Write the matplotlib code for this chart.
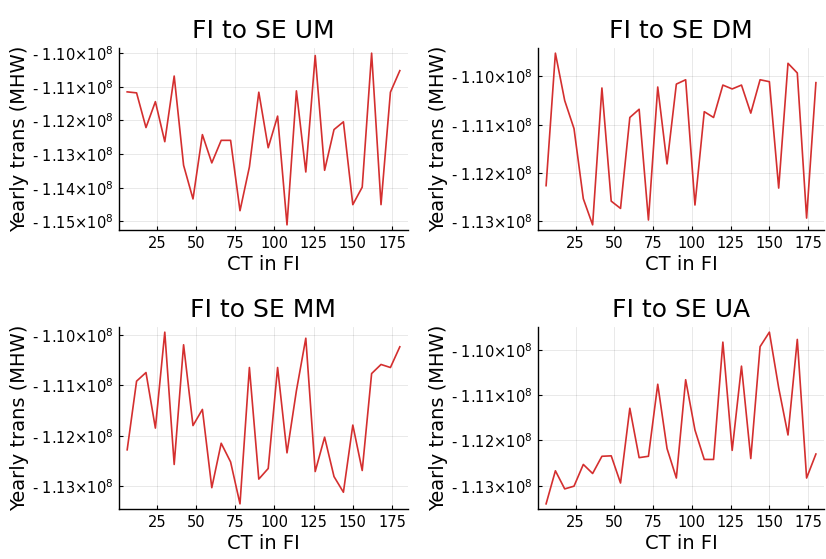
import numpy as np
import matplotlib
matplotlib.use("Agg")
import matplotlib.pyplot as plt
from matplotlib.ticker import MultipleLocator, FuncFormatter

# CT in FI (x axis), same for all panels
ct = np.arange(6, 181, 6)

# yearly transmission, in units of 1e8 MHW (negative)
um = [-1.1115, -1.1118, -1.1221, -1.1144, -1.1263, -1.1068, -1.1333, -1.1433, -1.1242, -1.1326,
      -1.1259, -1.1259, -1.1468, -1.1338, -1.1116, -1.1281, -1.1187, -1.1510, -1.1112, -1.1353,
      -1.1007, -1.1348, -1.1227, -1.1204, -1.1450, -1.1398, -1.1000, -1.1450, -1.1116, -1.1052]
dm = [-1.1226, -1.0952, -1.1050, -1.1108, -1.1253, -1.1307, -1.1024, -1.1258, -1.1273, -1.1085,
      -1.1068, -1.1297, -1.1022, -1.1181, -1.1016, -1.1007, -1.1266, -1.1073, -1.1085, -1.1018,
      -1.1026, -1.1018, -1.1076, -1.1007, -1.1011, -1.1231, -1.0973, -1.0993, -1.1293, -1.1013]
mm = [-1.1228, -1.1092, -1.1075, -1.1185, -1.0995, -1.1257, -1.1020, -1.1180, -1.1148, -1.1303,
      -1.1215, -1.1252, -1.1335, -1.1065, -1.1286, -1.1265, -1.1065, -1.1234, -1.1111, -1.1007,
      -1.1271, -1.1203, -1.1281, -1.1312, -1.1179, -1.1269, -1.1077, -1.1059, -1.1065, -1.1024]
ua = [-1.1340, -1.1267, -1.1307, -1.1301, -1.1253, -1.1273, -1.1235, -1.1234, -1.1294, -1.1129,
      -1.1238, -1.1235, -1.1076, -1.1218, -1.1283, -1.1066, -1.1177, -1.1242, -1.1242, -1.0983,
      -1.1222, -1.1036, -1.1240, -1.0993, -1.0961, -1.1084, -1.1188, -1.0977, -1.1283, -1.1230]

titles = ["FI to SE UM", "FI to SE DM", "FI to SE MM", "FI to SE UA"]
series = [um, dm, mm, ua]

W, H = 826, 559
boxes = [(119, 48, 408, 230), (538, 48, 824, 230),
         (119, 327, 408, 509), (538, 327, 824, 509)]

def fmt(v, pos):
    return "- %.2f×10$^{8}$" % (abs(v) / 1e8)

fig = plt.figure(figsize=(W / 100, H / 100), dpi=100)
for (l, t, r, b), title, y in zip(boxes, titles, series):
    ax = fig.add_axes([l / W, 1 - b / H, (r - l) / W, (b - t) / H])
    ax.plot(ct, np.array(y) * 1e8, color="#d42f2f", lw=1.2)
    ax.margins(0.03)
    ax.set_title(title, fontsize=18, pad=7)
    ax.set_xlabel("CT in FI", fontsize=14, labelpad=3)
    ax.set_ylabel("Yearly trans (MHW)", fontsize=14, labelpad=2)
    ax.xaxis.set_major_locator(MultipleLocator(25))
    ax.yaxis.set_major_locator(MultipleLocator(1e6))
    ax.yaxis.set_major_formatter(FuncFormatter(fmt))
    ax.tick_params(direction="in", length=3, width=0.8, labelsize=10.5, pad=4)
    ax.grid(True, color="black", alpha=0.1, lw=0.6)
    for s in ["top", "right"]:
        ax.spines[s].set_visible(False)
    for s in ["left", "bottom"]:
        ax.spines[s].set_linewidth(1.0)

plt.savefig("out.png", dpi=100)
